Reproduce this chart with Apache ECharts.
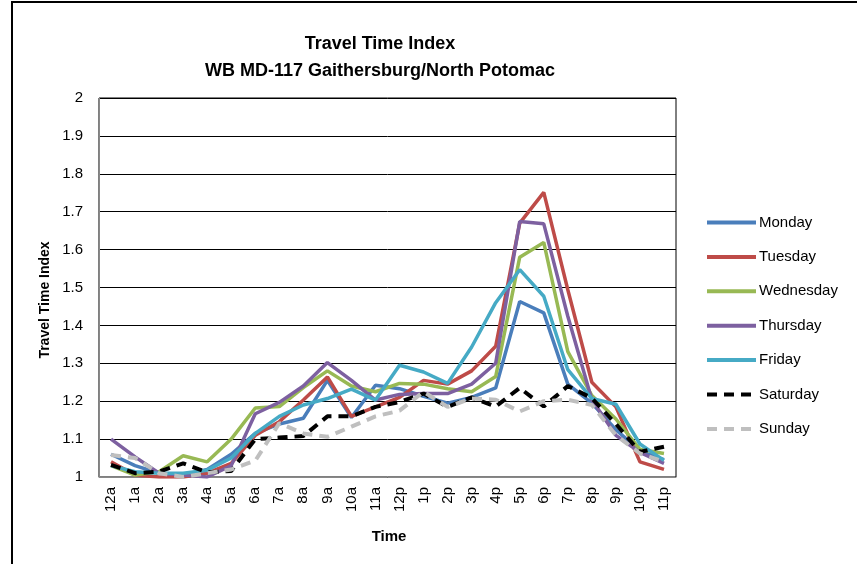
<!DOCTYPE html>
<html><head><meta charset="utf-8">
<script src="https://cdn.jsdelivr.net/npm/echarts@6/dist/echarts.min.js"></script>
<style>html,body{margin:0;padding:0;background:#fff}#c{width:857px;height:564px}</style>
</head><body><div id="c"></div>
<script>
const categories = ['12a','1a','2a','3a','4a','5a','6a','7a','8a','9a','10a','11a','12p','1p','2p','3p','4p','5p','6p','7p','8p','9p','10p','11p'];
const monday    = [1.06,1.03,1.01,1.005,1.02,1.06,1.115,1.14,1.155,1.255,1.157,1.242,1.233,1.213,1.195,1.21,1.235,1.463,1.433,1.245,1.195,1.125,1.068,1.046];
const tuesday   = [1.04,1.005,1.0,1.0,1.01,1.036,1.11,1.146,1.203,1.264,1.16,1.185,1.21,1.255,1.245,1.28,1.345,1.67,1.751,1.494,1.25,1.185,1.04,1.02];
const wednesday = [1.03,1.005,1.014,1.056,1.04,1.10,1.182,1.186,1.236,1.28,1.24,1.225,1.247,1.245,1.233,1.225,1.265,1.58,1.619,1.331,1.215,1.153,1.073,1.062];
const thursday  = [1.10,1.053,1.01,1.005,1.0,1.03,1.167,1.197,1.24,1.302,1.255,1.203,1.218,1.22,1.22,1.245,1.30,1.674,1.668,1.424,1.204,1.11,1.065,1.036];
const friday    = [1.03,1.014,1.01,1.01,1.018,1.05,1.115,1.16,1.19,1.207,1.232,1.203,1.295,1.277,1.247,1.343,1.46,1.547,1.477,1.283,1.207,1.192,1.087,1.044];
const saturday  = [1.032,1.01,1.014,1.036,1.012,1.016,1.10,1.104,1.108,1.16,1.16,1.185,1.198,1.22,1.185,1.21,1.186,1.235,1.186,1.24,1.208,1.14,1.066,1.08];
const sunday    = [1.058,1.05,1.01,1.0,1.01,1.02,1.043,1.142,1.115,1.106,1.133,1.16,1.175,1.225,1.185,1.207,1.204,1.173,1.20,1.204,1.19,1.11,1.062,1.04];
const seriesNames = ['Monday','Tuesday','Wednesday','Thursday','Friday','Saturday','Sunday'];
const seriesData = [monday,tuesday,wednesday,thursday,friday,saturday,sunday];
const colors = ['#4A7EBB','#BE4B48','#98B954','#7D60A0','#46AAC5','#000000','#BFBFBF'];
const FONT = "'Liberation Sans',sans-serif";

const chart = echarts.init(document.getElementById('c'), null, {renderer:'canvas'});
chart.setOption({
  animation:false,
  textStyle:{fontFamily:FONT},
  graphic:[
    {type:'rect', shape:{x:12,y:2,width:900,height:700}, style:{fill:'none',stroke:'#000',lineWidth:2}, z:-10},
    {type:'text', x:380, y:44, style:{text:'Travel Time Index', font:"bold 18px "+FONT, textAlign:'center', textVerticalAlign:'middle', fill:'#000'}},
    {type:'text', x:380, y:71, style:{text:'WB MD-117 Gaithersburg/North Potomac', font:"bold 18px "+FONT, textAlign:'center', textVerticalAlign:'middle', fill:'#000'}},
    {type:'text', x:45, y:300, rotation:Math.PI/2, style:{text:'Travel Time Index', font:"bold 14px "+FONT, textAlign:'center', textVerticalAlign:'middle', fill:'#000'}},
    {type:'text', x:389, y:537, style:{text:'Time', font:"bold 15px "+FONT, textAlign:'center', textVerticalAlign:'middle', fill:'#000'}}
  ],
  grid:{left:99, top:98, right:181, bottom:87, show:true, borderColor:'#000', borderWidth:1},
  legend:{
    orient:'vertical', left:700, top:210, itemWidth:49, itemHeight:14, itemGap:19.4,
    itemStyle:{opacity:0},
    lineStyle:{width:4},
    textStyle:{fontSize:15, color:'#000', fontFamily:FONT, padding:[0,0,0,-2]},
    data:seriesNames
  },
  xAxis:{
    type:'category', data:categories, boundaryGap:true,
    axisLine:{lineStyle:{color:'#888',width:1}}, axisTick:{show:false},
    axisLabel:{rotate:90, fontSize:15, color:'#000', margin:10, fontFamily:FONT}
  },
  yAxis:{
    type:'value', min:1, max:2, interval:0.1,
    axisLine:{show:true, lineStyle:{color:'#888'}}, axisTick:{show:false},
    axisLabel:{fontSize:15, color:'#000', margin:16, fontFamily:FONT},
    splitLine:{lineStyle:{color:'#000', width:1}}
  },
  series: seriesNames.map((n,i)=>({
    name:n, type:'line', data:seriesData[i], symbol:'none',
    lineStyle:{color:colors[i], width: i>=5 ? 4 : 3.5, type: i>=5 ? [10,7] : 'solid'},
    itemStyle:{color:colors[i]}
  }))
});
</script></body></html>
